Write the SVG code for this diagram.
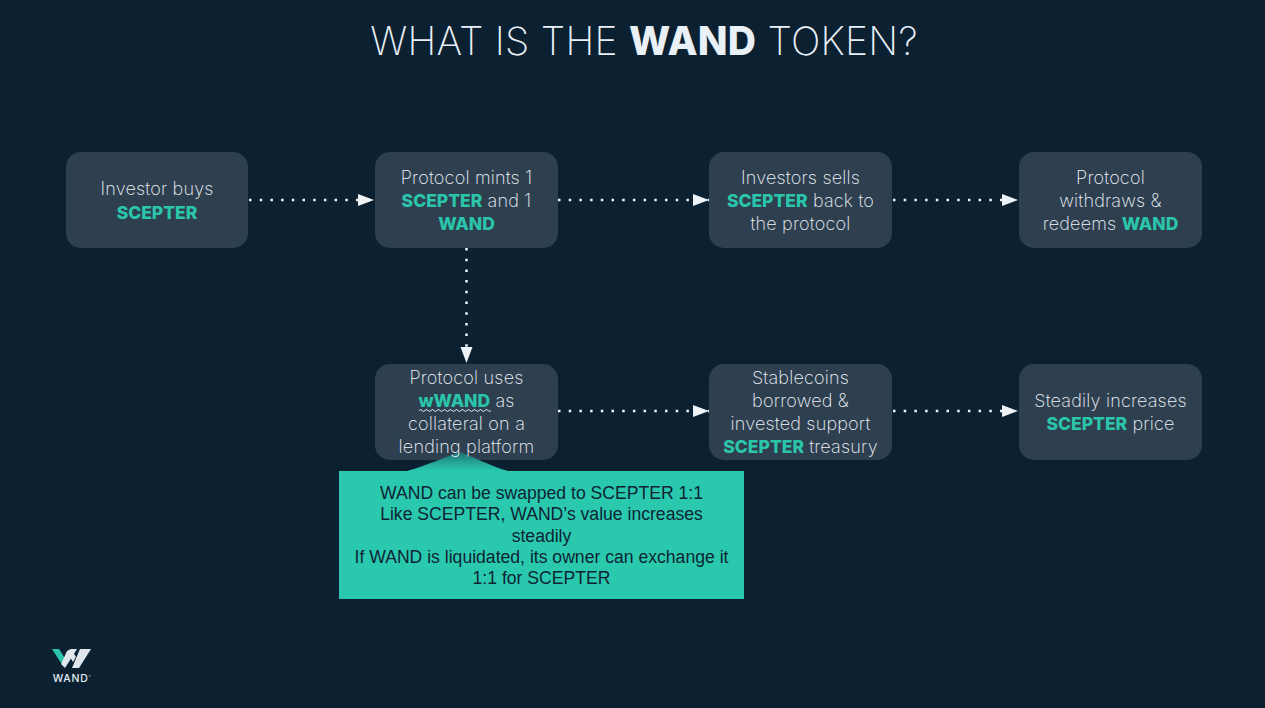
<svg xmlns="http://www.w3.org/2000/svg" width="1265" height="708" viewBox="0 0 1265 708">
<style>
.box{fill:#2e4050}
.t{font-family:Inter,"Noto Sans",sans-serif;font-size:18px;letter-spacing:.2px;font-weight:250;fill:#eef3f8;text-anchor:middle}
.b{font-size:17.500px;letter-spacing:0;font-weight:800;fill:#2ac5aa}
.c{stroke:#eef3f7;stroke-width:2.500;stroke-dasharray:2.500 8.200;fill:none}
.n{font-family:"Liberation Sans",Arial,sans-serif;font-size:17.600px;fill:#0e2433;text-anchor:middle}
.l{fill:#dfe7ed}
</style>
<defs><marker id="a" markerUnits="userSpaceOnUse" markerWidth="17" markerHeight="14" refX="16" refY="7" orient="auto"><path d="M0 1L16 7L0 13Z" fill="#eef3f7"/></marker>
<linearGradient id="g" x1="0" y1="452" x2="0" y2="471" gradientUnits="userSpaceOnUse"><stop offset="0" stop-color="#1f6a6c"/><stop offset=".45" stop-color="#249c90"/><stop offset="1" stop-color="#2ac9ae"/></linearGradient></defs>
<rect width="1265" height="708" fill="#0b2132"/>
<text x="644" y="55" text-anchor="middle" font-family="Inter,sans-serif" font-size="39px" font-weight="150" fill="#e9f0f6" letter-spacing="0.25">WHAT IS THE <tspan font-weight="800">WAND</tspan> TOKEN?</text>
<g id="connectors">
<path class="c" marker-end="url(#a)" d="M249 200H374"/>
<path class="c" marker-end="url(#a)" d="M558 200H709"/>
<path class="c" marker-end="url(#a)" d="M893 200H1018"/>
<path class="c" marker-end="url(#a)" d="M466.500 248V363"/>
<path class="c" marker-end="url(#a)" d="M558 411H709"/>
<path class="c" marker-end="url(#a)" d="M893 411H1018"/>
</g>
<g id="n1"><rect class="box" x="66" y="152" width="182" height="96" rx="15"/><text class="t" x="157" y="195">Investor buys</text><text class="t b" x="157" y="219">SCEPTER</text></g>
<g id="n2"><rect class="box" x="375" y="152" width="183" height="96" rx="15"/><text class="t" x="466.500" y="184">Protocol mints 1</text><text class="t" x="466.500" y="207"><tspan class="b">SCEPTER</tspan> and 1</text><text class="t b" x="466.500" y="230">WAND</text></g>
<g id="n3"><rect class="box" x="709" y="152" width="183" height="96" rx="15"/><text class="t" x="800.500" y="184">Investors sells</text><text class="t" x="800.500" y="207"><tspan class="b">SCEPTER</tspan> back to</text><text class="t" x="800.500" y="230">the protocol</text></g>
<g id="n4"><rect class="box" x="1019" y="152" width="183" height="96" rx="15"/><text class="t" x="1110.500" y="184">Protocol</text><text class="t" x="1110.500" y="207">withdraws &amp;</text><text class="t" x="1110.500" y="230">redeems <tspan class="b">WAND</tspan></text></g>
<g id="n5"><rect class="box" x="375" y="364" width="183" height="96" rx="15"/><path d="M407 471C425 466 448 456 460 452C472 456 490 466 508 471Z" fill="url(#g)"/><text class="t" x="466.500" y="384">Protocol uses</text><text class="t" x="466.500" y="407"><tspan class="b">wWAND</tspan> as</text><path d="M419 410.500q1.500-2 3 0t3 0t3 0t3 0t3 0t3 0t3 0t3 0t3 0t3 0t3 0t3 0t3 0t3 0t3 0t3 0t3 0t3 0t3 0t3 0t3 0t3 0t3 0t3 0" fill="none" stroke="#e3ebf2" stroke-width="1"/><text class="t" x="466.500" y="430">collateral on a</text><text class="t" x="466.500" y="453">lending platform</text></g>
<g id="n6"><rect class="box" x="709" y="364" width="183" height="96" rx="15"/><text class="t" x="800.500" y="384">Stablecoins</text><text class="t" x="800.500" y="407">borrowed &amp;</text><text class="t" x="800.500" y="430">invested support</text><text class="t" x="800.500" y="453"><tspan class="b">SCEPTER</tspan> treasury</text></g>
<g id="n7"><rect class="box" x="1019" y="364" width="183" height="96" rx="15"/><text class="t" x="1110.500" y="407">Steadily increases</text><text class="t" x="1110.500" y="430"><tspan class="b">SCEPTER</tspan> price</text></g>
<g id="note"><rect x="339" y="471" width="405" height="128" fill="#2ac9ae"/>
<text class="n" x="541.500" y="499">WAND can be swapped to SCEPTER 1:1</text>
<text class="n" x="541.500" y="520">Like SCEPTER, WAND’s value increases</text>
<text class="n" x="541.500" y="542">steadily</text>
<text class="n" x="541.500" y="563">If WAND is liquidated, its owner can exchange it</text>
<text class="n" x="541.500" y="584">1:1 for SCEPTER</text></g>
<g id="logo"><path d="M52 649H59L66 660L61 663Z" fill="#2ac5aa"/><path class="l" d="M67 651L71 649H77L65 668L61 664Z"/><path class="l" d="M67 652L71 649L76 657L73 662Z"/><path class="l" d="M80 649H91L79 668H72Z"/>
<text x="72" y="682" text-anchor="middle" font-family="Inter,sans-serif" font-size="10.500px" font-weight="500" letter-spacing=".8" fill="#e3ebf2">WAND<tspan font-size="4" dy="-4">°</tspan></text></g>
</svg>
